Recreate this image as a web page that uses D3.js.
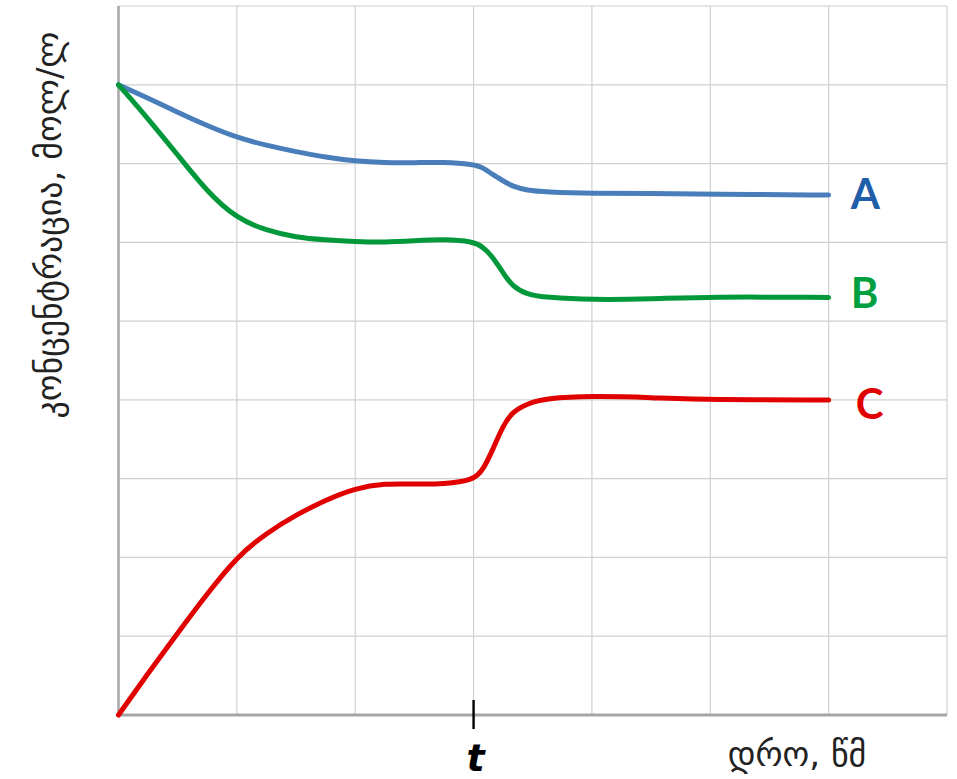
<!DOCTYPE html>
<html>
<head>
<meta charset="utf-8">
<script src="https://cdn.jsdelivr.net/npm/d3@7"></script>
<style>
  html, body { margin: 0; padding: 0; background: #fff; }
  svg { display: block; }
</style>
</head>
<body>
<svg id="chart" width="957" height="779"></svg>
<script>
// ---- data ----
const times   = [0, 0.25, 0.5, 0.75, 1, 1.25, 1.5, 1.75, 2, 2.25, 2.5, 2.75, 3, 3.08, 3.16, 3.25, 3.33, 3.45, 3.61, 4, 4.5, 5, 6];
const seriesA = [8, 7.83, 7.65, 7.48, 7.33, 7.23, 7.15, 7.08, 7.03, 7.01, 7.01, 7.02, 6.99, 6.95, 6.86, 6.78, 6.71, 6.66, 6.64, 6.62, 6.62, 6.61, 6.6];
const seriesB = [8, 7.57, 7.11, 6.64, 6.30, 6.15, 6.06, 6.03, 6.01, 6.00, 6.02, 6.04, 6.01, 5.94, 5.82, 5.61, 5.44, 5.34, 5.30, 5.27, 5.28, 5.31, 5.30];
const seriesC = [0, 0.53, 1.04, 1.54, 2.01, 2.31, 2.54, 2.73, 2.88, 2.94, 2.93, 2.93, 2.98, 3.11, 3.36, 3.68, 3.85, 3.95, 4.02, 4.05, 4.03, 4.0, 4.0];
const seriesNames = ["A", "B", "C"];
const xTickLabel = "t";
const xTickValue = 3;
const xLabel = "დრო, წმ";
const yLabel = "კონცენტრაცია, მოლ/ლ";

// ---- layout ----
const svg = d3.select("#chart");
const x = d3.scaleLinear().domain([0, 7]).range([118.5, 947]);
const y = d3.scaleLinear().domain([0, 9]).range([715, 6]);

const colors = { A: "#4a7ebb", B: "#00983a", C: "#e00000" };
const labelColors = { A: "#1f5ea8", B: "#00a040", C: "#e00000" };
const labelDy = { A: -2.5, B: -5, C: 3.5 };
const labelDx = { A: 22, B: 22, C: 27 };

// grid
const grid = svg.append("g");
grid.selectAll("line.v").data(d3.range(1, 8)).enter().append("line")
  .attr("x1", d => x(d)).attr("x2", d => x(d))
  .attr("y1", y(9)).attr("y2", y(0))
  .attr("stroke", "#d0d0d0").attr("stroke-width", 1.2);
grid.selectAll("line.h").data(d3.range(1, 10)).enter().append("line")
  .attr("x1", x(0)).attr("x2", x(7))
  .attr("y1", d => y(d)).attr("y2", d => y(d))
  .attr("stroke", "#d0d0d0").attr("stroke-width", 1.2);

// axes lines
svg.append("line").attr("x1", x(0)).attr("x2", x(0)).attr("y1", y(9)).attr("y2", y(0) + 1.5)
  .attr("stroke", "#a6a6a6").attr("stroke-width", 2.5);
svg.append("line").attr("x1", x(0) - 1).attr("x2", x(7)).attr("y1", y(0)).attr("y2", y(0))
  .attr("stroke", "#a6a6a6").attr("stroke-width", 3);

// series
const data = { A: seriesA, B: seriesB, C: seriesC };
const line = d3.line()
  .x((d, i) => x(times[i]))
  .y(d => y(d))
  .curve(d3.curveBasis);

seriesNames.forEach(name => {
  svg.append("path")
    .attr("d", line(data[name]))
    .attr("fill", "none")
    .attr("stroke", colors[name])
    .attr("stroke-width", 5)
    .attr("stroke-linecap", "round")
    .attr("stroke-linejoin", "round");
  const vals = data[name];
  svg.append("text")
    .attr("x", x(times[times.length - 1]) + labelDx[name])
    .attr("y", y(vals[vals.length - 1]) + labelDy[name])
    .attr("dominant-baseline", "central")
    .attr("font-family", "Lato, 'Open Sans', sans-serif")
    .attr("font-weight", "bold")
    .attr("font-size", 42)
    .attr("fill", labelColors[name])
    .text(name);
});

// t tick
svg.append("line")
  .attr("x1", x(xTickValue)).attr("x2", x(xTickValue))
  .attr("y1", y(0) - 15).attr("y2", y(0) + 14)
  .attr("stroke", "#000").attr("stroke-width", 2.4);
svg.append("text")
  .attr("x", x(xTickValue) + 2)
  .attr("y", 771)
  .attr("text-anchor", "middle")
  .attr("font-family", "'DejaVu Sans', sans-serif")
  .attr("font-weight", "bold")
  .attr("font-style", "italic")
  .attr("font-size", 38)
  .attr("fill", "#000")
  .text(xTickLabel);

// x label
svg.append("text")
  .attr("x", 797)
  .attr("y", 766)
  .attr("text-anchor", "middle")
  .attr("font-family", "'DejaVu Sans', sans-serif")
  .attr("font-size", 34)
  .attr("fill", "#222")
  .text(xLabel);

// y label
svg.append("text")
  .attr("transform", "translate(61,225) rotate(-90)")
  .attr("text-anchor", "middle")
  .attr("font-family", "'DejaVu Sans', sans-serif")
  .attr("font-size", 34)
  .attr("fill", "#222")
  .text(yLabel);
</script>
</body>
</html>
